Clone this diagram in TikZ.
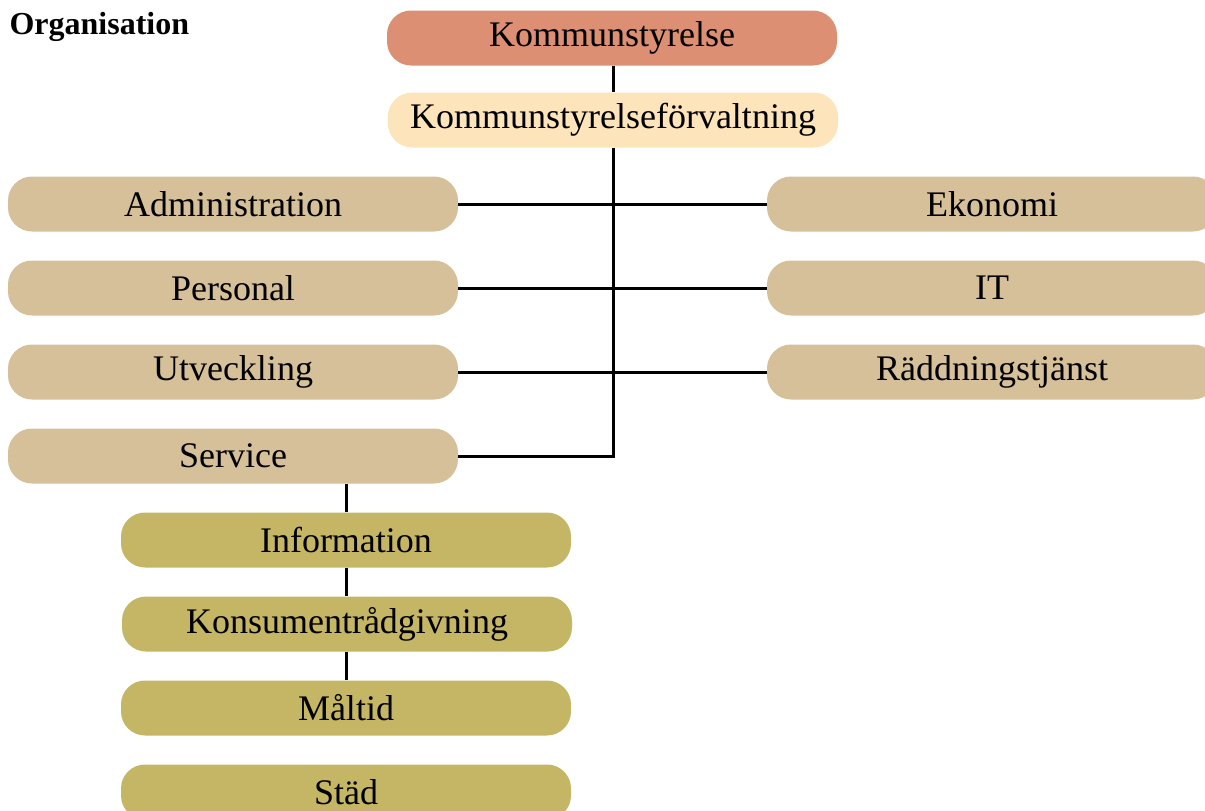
\documentclass[tikz,border=0pt]{standalone}
\usepackage{fontspec}
\setmainfont{Liberation Serif}
\definecolor{ksred}{HTML}{DC8F72}
\definecolor{ksfcream}{HTML}{FDE4BA}
\definecolor{unittan}{HTML}{D6C09A}
\definecolor{subolive}{HTML}{C5B665}
\tikzset{
  unit/.style={rounded corners=24pt, minimum width=450pt, minimum height=55pt,
    inner sep=0pt, font=\fontsize{36}{40}\selectfont},
  top/.style={unit, fill=ksred},
  office/.style={unit, fill=ksfcream},
  dept/.style={unit, fill=unittan},
  sub/.style={unit, fill=subolive},
  link/.style={line width=3pt}
}
\begin{document}
\begin{tikzpicture}[x=1pt,y=-1pt]
      \useasboundingbox (0,0) rectangle (1205,811);
      \node[anchor=west, font=\bfseries\fontsize{32}{36}\selectfont] (title) at (6,27) {Organisation};
      \draw
        (612,38) node[top] (ks){Kommunstyrelse}
        (613,120) node[office] (ksf){Kommunstyrelseförvaltning}
        (233,204) node[dept] (adm){Administration}
        (233,288) node[dept] (pers){Personal}
        (233,372) node[dept] (utv){Utveckling}
        (233,456) node[dept] (serv){Service}
        (992,204) node[dept] (eko){Ekonomi}
        (992,288) node[dept] (it){IT}
        (992,372) node[dept] (rtj){Räddningstjänst}
        (346,540) node[sub] (info){Information}
        (347,624) node[sub] (kons){Konsumentrådgivning}
        (346,708) node[sub] (malt){Måltid}
        (346,792) node[sub] (stad){Städ};
      \begin{scope}[link]
        \draw (ks.south -| ksf.north) to (ksf.north);
        \draw (ksf.south) |- (serv.east);
        \draw (adm) to (eko);
        \draw (pers) to (it);
        \draw (utv) to (rtj);
        \draw (info.north) to (info.north |- serv.south);
        \draw (info.south) to (info.south |- kons.north);
        \draw (kons.south -| info.south) to (malt.north);
      \end{scope}
    \end{tikzpicture}
\end{document}
